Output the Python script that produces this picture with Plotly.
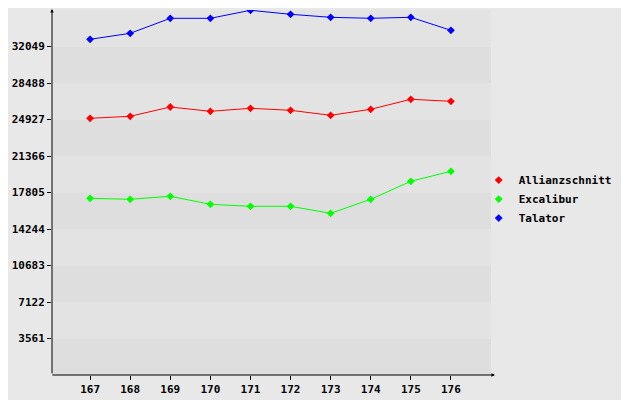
import plotly.graph_objects as go

weeks = [167, 168, 169, 170, 171, 172, 173, 174, 175, 176]
allianzschnitt = [25044, 25239, 26146, 25727, 26019, 25824, 25336, 25922, 26897, 26702]
excalibur = [17239, 17141, 17434, 16653, 16458, 16458, 15775, 17141, 18897, 19873]
talator = [32751, 33337, 34800, 34800, 35580, 35190, 34897, 34800, 34897, 33629]
y_ticks = [3561, 7122, 10683, 14244, 17805, 21366, 24927, 28488, 32049]
y_max = 35610

series = [("Allianzschnitt", allianzschnitt, "#ff0000"),
          ("Excalibur", excalibur, "#00ff00"),
          ("Talator", talator, "#0000ff")]

bold = dict(family="DejaVu Sans Mono", size=11, color="#000000", weight="bold")

fig = go.Figure()
for name, vals, col in series:
    # line without legend entry, markers carry the legend
    fig.add_trace(go.Scatter(x=weeks, y=vals, mode="lines", showlegend=False,
                             legendgroup=name, hoverinfo="skip",
                             line=dict(color=col, width=1)))
    fig.add_trace(go.Scatter(x=weeks, y=vals, name=name, mode="markers",
                             legendgroup=name,
                             marker=dict(symbol="diamond", size=6, color=col)))

# alternating horizontal bands
edges = [0] + y_ticks + [y_max]
for i in range(len(edges) - 1):
    fig.add_shape(type="rect", xref="paper", yref="y", x0=0, x1=1,
                  y0=edges[i], y1=edges[i + 1], line=dict(width=0), layer="below",
                  fillcolor="#dedede" if i % 2 == 0 else "#e3e3e3")

# axis lines with arrow heads
fig.add_annotation(xref="paper", yref="paper", x=0, y=1.014, ax=0, ay=370,
                   showarrow=True, arrowhead=2, arrowsize=0.7, arrowwidth=1,
                   arrowcolor="#000000", text="")
fig.add_annotation(xref="paper", yref="paper", x=1.009, y=0, ax=-444, ay=0,
                   showarrow=True, arrowhead=2, arrowsize=0.7, arrowwidth=1,
                   arrowcolor="#000000", text="")

fig.update_xaxes(range=[166.05, 177], tickvals=weeks, ticktext=[str(w) for w in weeks],
                 ticks="outside", ticklen=4, tickcolor="#000000", automargin=False,
                 showgrid=False, zeroline=False, showline=False, tickfont=bold)
fig.update_yaxes(range=[0, y_max], tickvals=y_ticks, ticktext=[str(v) for v in y_ticks],
                 ticks="outside", ticklen=4, tickcolor="#000000", automargin=False,
                 showgrid=False, zeroline=False, showline=False, tickfont=bold)

# page body has an 8px margin, so the figure is 8px smaller and margins shifted
fig.update_layout(
    width=621, height=392,
    margin=dict(l=44, r=138, t=2, b=25, autoexpand=False),
    paper_bgcolor="#e8e8e8", plot_bgcolor="#e8e8e8",
    font=bold,
    showlegend=True,
    legend=dict(x=0.972, xanchor="left", y=0.482, yanchor="middle",
                bgcolor="rgba(0,0,0,0)", itemwidth=30, tracegroupgap=0,
                font=bold),
)

fig.write_html("out.html")
